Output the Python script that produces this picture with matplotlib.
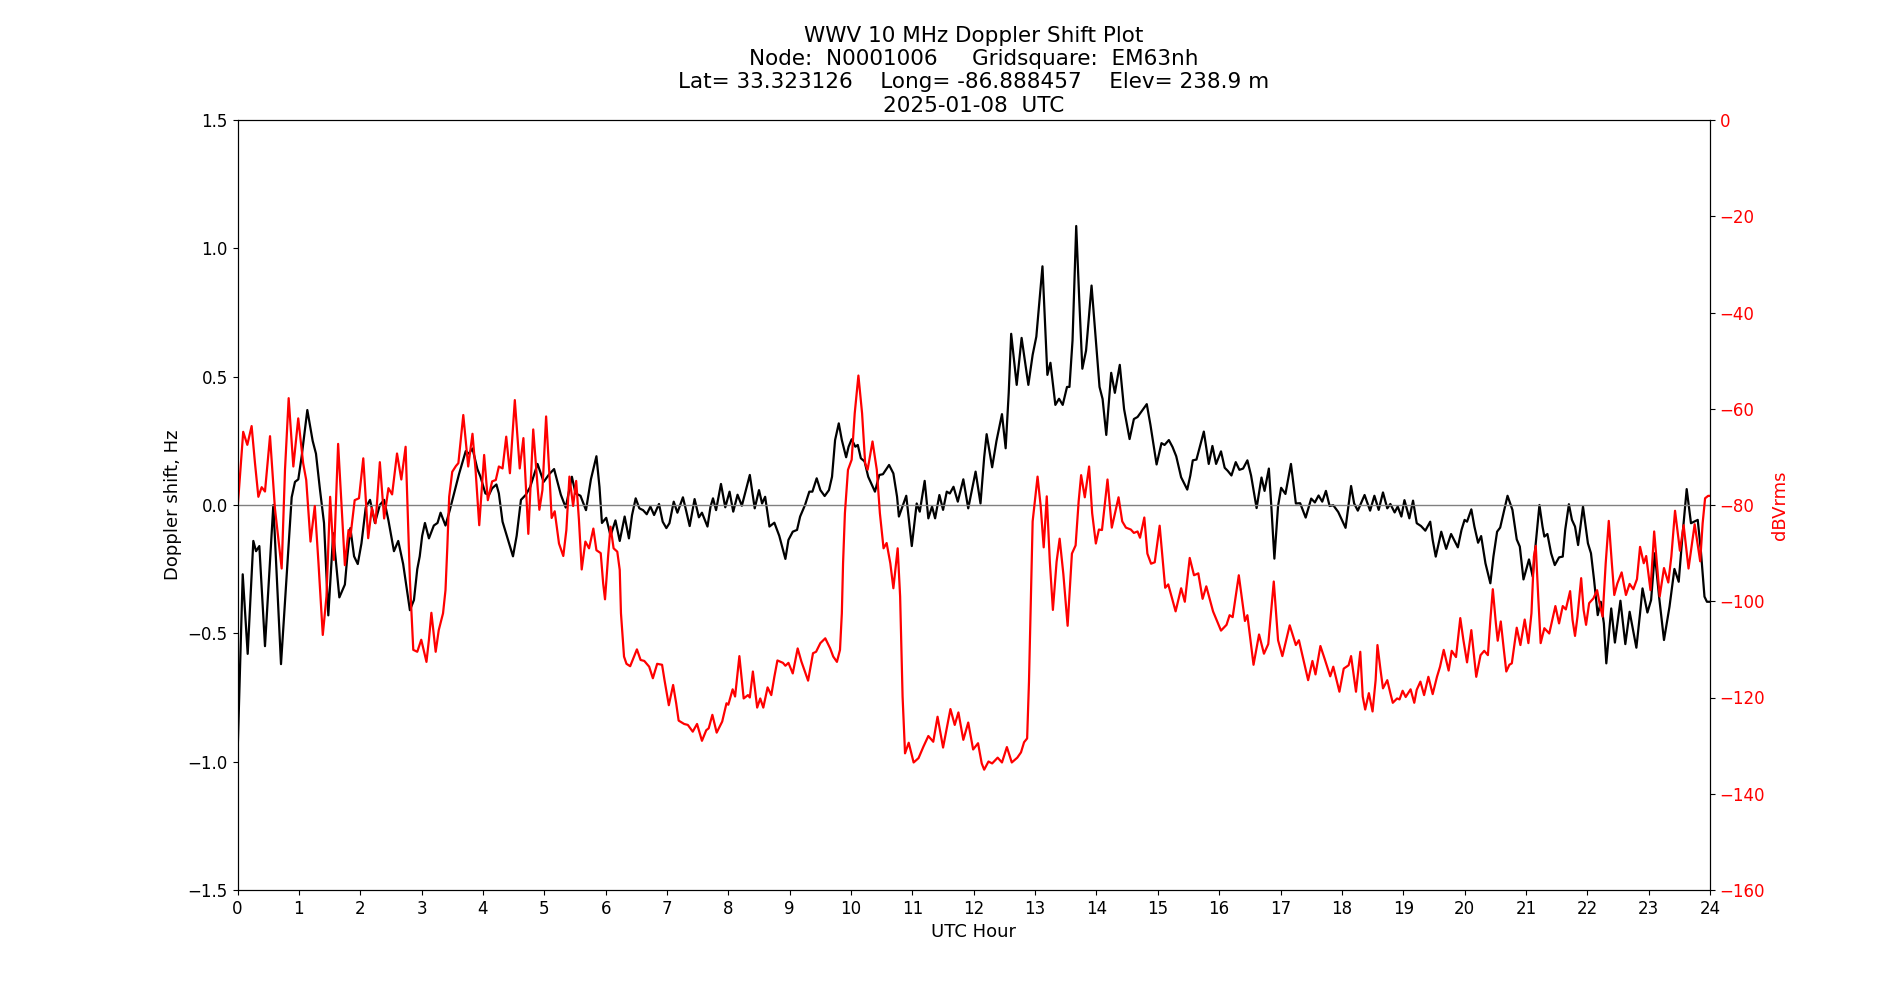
import numpy as np
import matplotlib
matplotlib.use("Agg")
import matplotlib.pyplot as plt

# Doppler shift (black), UTC hour / Hz
doppler_hours = [
    0.00, 0.085, 0.166, 0.258, 0.302, 0.356, 0.448, 0.584, 0.709, 0.883, 0.937, 0.991, 1.046, 1.138, 1.225, 1.279,
    1.344, 1.41, 1.48, 1.56, 1.66, 1.75, 1.79, 1.84, 1.90, 1.96, 2.02, 2.09, 2.16, 2.24, 2.32, 2.39, 2.46, 2.55,
    2.62, 2.70, 2.81,
    2.876, 2.93, 2.97, 3.01, 3.055, 3.12, 3.20, 3.26, 3.31, 3.39, 3.46, 3.53, 3.61, 3.72, 3.77, 3.83, 3.91, 3.96,
    4.04, 4.10, 4.15, 4.22, 4.26, 4.32, 4.39, 4.49, 4.55, 4.62, 4.70, 4.77, 4.89, 4.99, 5.08, 5.16, 5.27, 5.35,
    5.45, 5.51, 5.59, 5.68, 5.76, 5.85,
    5.90, 5.94, 6.01, 6.08, 6.16, 6.23, 6.31, 6.38, 6.43, 6.49, 6.55, 6.61, 6.67, 6.73, 6.79, 6.87, 6.93, 6.99,
    7.04, 7.11, 7.17, 7.26, 7.31, 7.37, 7.45, 7.52, 7.57, 7.66, 7.71, 7.75, 7.80, 7.88, 7.95, 8.02, 8.08, 8.15,
    8.22, 8.35, 8.43, 8.50, 8.55, 8.60, 8.67, 8.75, 8.83, 8.93,
    8.98, 9.05, 9.12, 9.17, 9.25, 9.32, 9.37, 9.44, 9.50, 9.57, 9.64, 9.69, 9.74, 9.80, 9.85, 9.92, 9.96, 10.01,
    10.07, 10.11, 10.16, 10.22, 10.28, 10.39, 10.46, 10.52, 10.62, 10.69, 10.75, 10.78, 10.90, 10.99, 11.07, 11.12,
    11.20, 11.26, 11.32, 11.37, 11.44, 11.50, 11.56, 11.61, 11.67, 11.74, 11.83, 11.91, 12.03, 12.11,
    12.17, 12.21, 12.30, 12.37, 12.46, 12.52, 12.57, 12.61, 12.70, 12.78, 12.89, 12.96, 13.02, 13.12, 13.20, 13.25,
    13.33, 13.39, 13.45, 13.52, 13.56, 13.61, 13.67, 13.72, 13.77, 13.83, 13.85, 13.92, 13.99, 14.05, 14.10, 14.16,
    14.24, 14.30, 14.38, 14.45, 14.54, 14.61, 14.67, 14.82, 14.88, 14.98, 15.06,
    15.11, 15.18, 15.24, 15.30, 15.38, 15.48, 15.53, 15.57, 15.63, 15.75, 15.83, 15.89, 15.95, 16.03, 16.09, 16.14,
    16.20, 16.27, 16.33, 16.39, 16.46, 16.52, 16.61, 16.69, 16.74, 16.81, 16.85, 16.90, 16.96, 17.01, 17.08, 17.17,
    17.25, 17.32, 17.41, 17.50, 17.56, 17.62, 17.68, 17.74, 17.80, 17.86, 17.94, 18.06,
    18.15, 18.20, 18.26, 18.37, 18.46, 18.53, 18.60, 18.67, 18.74, 18.79, 18.86, 18.91, 18.97, 19.02, 19.10, 19.16,
    19.22, 19.29, 19.36, 19.44, 19.48, 19.53, 19.62, 19.70, 19.78, 19.89, 19.95, 20.00, 20.04, 20.11, 20.16, 20.22,
    20.27, 20.34, 20.42, 20.47, 20.53, 20.58, 20.70, 20.78, 20.85, 20.90, 20.96, 21.05, 21.11,
    21.16, 21.22, 21.27, 21.30, 21.35, 21.41, 21.47, 21.54, 21.60, 21.64, 21.70, 21.75, 21.80, 21.85, 21.93, 22.01,
    22.06, 22.11, 22.17, 22.22, 22.27, 22.31, 22.39, 22.45, 22.54, 22.62, 22.69, 22.80, 22.86, 22.90, 22.98, 23.04,
    23.10, 23.17, 23.25, 23.34, 23.42, 23.49, 23.55, 23.62, 23.69, 23.80, 23.85, 23.91, 23.95, 24.0,
]
doppler_hz = [
    -0.98, -0.27, -0.58, -0.14, -0.18, -0.16, -0.55, 0.00, -0.62, 0.03, 0.09, 0.10, 0.19, 0.37, 0.25, 0.20,
    0.06, -0.07, -0.43, -0.11, -0.36, -0.31, -0.20, -0.09, -0.20, -0.23, -0.15, -0.01, 0.02, -0.07, 0.00, 0.02, -0.06, -0.18,
    -0.14, -0.23, -0.41,
    -0.37, -0.25, -0.20, -0.12, -0.07, -0.13, -0.08, -0.07, -0.03, -0.08, -0.02, 0.045, 0.12, 0.21, 0.20, 0.22, 0.14, 0.11,
    0.045, 0.04, 0.065, 0.08, 0.045, -0.065, -0.12, -0.20, -0.12, 0.02, 0.04, 0.07, 0.16, 0.09, 0.12, 0.14, 0.04, -0.01,
    0.11, 0.045, 0.036, -0.02, 0.10, 0.19,
    0.07, -0.07, -0.05, -0.12, -0.06, -0.14, -0.045, -0.13, -0.04, 0.026, -0.013, -0.02, -0.036, -0.006, -0.039, 0.004, -0.065, -0.09,
    -0.071, 0.013, -0.03, 0.03, -0.02, -0.082, 0.023, -0.048, -0.03, -0.084, -0.006, 0.026, -0.02, 0.082, -0.009, 0.052, -0.026, 0.04,
    -0.003, 0.117, -0.013, 0.058, 0.006, 0.032, -0.084, -0.069, -0.12, -0.21,
    -0.136, -0.104, -0.097, -0.045, 0.0, 0.052, 0.052, 0.104, 0.058, 0.035, 0.058, 0.11, 0.253, 0.318, 0.253, 0.186, 0.227, 0.256,
    0.227, 0.234, 0.182, 0.17, 0.11, 0.052, 0.117, 0.12, 0.156, 0.123, 0.032, -0.045, 0.036, -0.16, 0.006, -0.026,
    0.094, -0.052, -0.006, -0.052, 0.039, -0.019, 0.052, 0.045, 0.071, 0.013, 0.1, -0.013, 0.13, 0.006,
    0.186, 0.276, 0.147, 0.249, 0.354, 0.221, 0.437, 0.667, 0.468, 0.651, 0.468, 0.585, 0.656, 0.930, 0.507, 0.554,
    0.390, 0.414, 0.390, 0.460, 0.460, 0.641, 1.087, 0.797, 0.531, 0.601, 0.656, 0.855, 0.641, 0.460, 0.413, 0.273,
    0.515, 0.437, 0.546, 0.374, 0.257, 0.335, 0.343, 0.393, 0.312, 0.158, 0.241,
    0.234, 0.253, 0.226, 0.19, 0.108, 0.06, 0.115, 0.174, 0.177, 0.286, 0.16, 0.23, 0.16, 0.209, 0.145, 0.133,
    0.115, 0.167, 0.137, 0.142, 0.174, 0.115, -0.012, 0.107, 0.055, 0.142, -0.004, -0.209, -0.004, 0.067, 0.043, 0.16,
    0.006, 0.007, -0.049, 0.025, 0.01, 0.037, 0.013, 0.055, -0.004, -0.001, -0.027, -0.089,
    0.074, 0.006, -0.022, 0.039, -0.022, 0.036, -0.019, 0.049, -0.013, 0.004, -0.029, -0.006, -0.045, 0.019, -0.052, 0.017,
    -0.071, -0.082, -0.1, -0.065, -0.136, -0.201, -0.104, -0.171, -0.113, -0.165, -0.097, -0.058, -0.065, -0.017, -0.084, -0.147,
    -0.121, -0.227, -0.305, -0.201, -0.104, -0.088, 0.036, -0.019, -0.134, -0.162, -0.29, -0.212, -0.279,
    -0.149, 0.0, -0.084, -0.123, -0.113, -0.188, -0.234, -0.204, -0.201, -0.097, 0.003, -0.058, -0.084, -0.156, -0.006, -0.149,
    -0.188, -0.291, -0.429, -0.377, -0.461, -0.617, -0.403, -0.536, -0.373, -0.542, -0.416, -0.556, -0.422, -0.325, -0.419, -0.37,
    -0.188, -0.357, -0.526, -0.396, -0.249, -0.299, -0.123, 0.062, -0.071, -0.058, -0.175, -0.357, -0.377, -0.377,
]

# signal level (red), UTC hour / dBVrms
power_hours = [
    0.0, 0.093, 0.16, 0.23, 0.285, 0.34, 0.394, 0.448, 0.53, 0.61, 0.72, 0.774, 0.834, 0.91, 0.99, 1.07, 1.12,
    1.19, 1.26, 1.32, 1.39, 1.45, 1.51, 1.57, 1.64, 1.75, 1.81, 1.84, 1.91, 1.98, 2.05, 2.13, 2.19, 2.25, 2.32,
    2.39, 2.46, 2.52, 2.60, 2.67, 2.74, 2.81, 2.865,
    2.93, 2.995, 3.08, 3.12, 3.16, 3.23, 3.28, 3.35, 3.39, 3.42, 3.45, 3.50, 3.56, 3.60, 3.68, 3.76, 3.83, 3.88,
    3.94, 4.02, 4.08, 4.15, 4.21, 4.26, 4.32, 4.38, 4.44, 4.52, 4.60, 4.66, 4.74, 4.82, 4.92, 4.97, 5.03, 5.09,
    5.12, 5.17, 5.24, 5.31, 5.36, 5.41, 5.47, 5.52, 5.565, 5.61, 5.67, 5.73, 5.80, 5.85,
    5.92, 5.96, 5.99, 6.04, 6.08, 6.13, 6.19, 6.23, 6.25, 6.30, 6.34, 6.40, 6.51, 6.57, 6.63, 6.71, 6.77, 6.84,
    6.92, 6.96, 7.03, 7.10, 7.15, 7.19, 7.28, 7.34, 7.42, 7.49, 7.57, 7.64, 7.68, 7.74, 7.81, 7.90, 7.97, 8.00,
    8.07, 8.11, 8.18, 8.25, 8.32, 8.35, 8.40, 8.47, 8.52, 8.57, 8.64, 8.70, 8.75, 8.80, 8.89, 8.93, 8.98, 9.05, 9.13,
    9.19, 9.22, 9.30, 9.38, 9.43, 9.50, 9.58, 9.66, 9.71, 9.77, 9.82, 9.85, 9.87, 9.90, 9.95, 10.01, 10.06, 10.12,
    10.18, 10.23, 10.27, 10.35, 10.42, 10.47, 10.53, 10.58, 10.64, 10.69, 10.76, 10.80, 10.84, 10.88, 10.94, 11.02,
    11.10, 11.18, 11.26, 11.34, 11.41, 11.50, 11.62, 11.69, 11.75, 11.83, 11.91, 11.99, 12.07, 12.13,
    12.17, 12.24, 12.30, 12.39, 12.46, 12.54, 12.62, 12.71, 12.77, 12.82, 12.87, 12.90, 12.93, 12.96, 13.04, 13.09,
    13.14, 13.19, 13.24, 13.29, 13.35, 13.40, 13.46, 13.53, 13.60, 13.66, 13.71, 13.75, 13.81, 13.88, 13.93, 13.99,
    14.04, 14.09, 14.18, 14.25, 14.36, 14.42, 14.48, 14.56, 14.61, 14.67, 14.71, 14.78, 14.83, 14.89, 14.95, 15.03,
    15.07, 15.12,
    15.17, 15.29, 15.38, 15.44, 15.52, 15.59, 15.66, 15.73, 15.79, 15.90, 16.03, 16.12, 16.17, 16.22, 16.32, 16.42,
    16.46, 16.56, 16.65, 16.73, 16.80, 16.89, 16.96, 17.03, 17.15, 17.25, 17.30, 17.45, 17.52, 17.57, 17.65, 17.72,
    17.81, 17.86, 17.96, 18.03, 18.11,
    18.15, 18.23, 18.30, 18.34, 18.38, 18.44, 18.50, 18.55, 18.58, 18.63, 18.67, 18.74, 18.79, 18.83, 18.90, 18.94,
    18.99, 19.04, 19.12, 19.18, 19.22, 19.28, 19.34, 19.41, 19.48, 19.55, 19.60, 19.66, 19.74, 19.79, 19.86, 19.93,
    19.98, 20.04, 20.11, 20.16, 20.19, 20.26, 20.32, 20.38, 20.42, 20.46, 20.51, 20.54, 20.59, 20.64, 20.68, 20.73,
    20.77, 20.80, 20.85, 20.91, 20.98, 21.04, 21.09, 21.13,
    21.16, 21.20, 21.24, 21.30, 21.38, 21.43, 21.48, 21.54, 21.60, 21.65, 21.72, 21.76, 21.80, 21.84, 21.90, 21.94,
    21.98, 22.03, 22.10, 22.16, 22.21, 22.25, 22.30, 22.35, 22.40, 22.44, 22.49, 22.56, 22.63, 22.69, 22.75, 22.81,
    22.86, 22.92, 22.96, 23.03, 23.09, 23.18, 23.25, 23.32, 23.37, 23.43, 23.51, 23.57, 23.65, 23.75, 23.84, 23.88,
    23.92, 23.97, 24.0,
]
power_db = [
    -81, -64.8, -67.5, -63.6, -71.3, -78.3, -76.3, -77.2, -65.7, -80.7, -93.2, -72.7, -57.8, -72, -62, -71.3, -74.8,
    -87.6, -80.2, -92.1, -107, -99, -78.3, -91.4, -67.3, -92.5, -85.2, -86.6, -79, -78.6, -70.3, -86.9, -80.6, -83.8, -71.1,
    -82.8, -76.5, -77.8, -69.3, -74.7, -67.9, -95.6, -110.1,
    -110.5, -108, -112.6, -108, -102.4, -110.5, -106, -102.5, -97.7, -88.7, -78.3, -73.1, -71.9, -71.3, -61.3, -72, -65.2, -72.7,
    -84.2, -69.6, -79, -75.1, -74.8, -72, -72.4, -65.8, -73.4, -58.2, -72.4, -66.1, -86, -64.3, -81, -76.9, -61.6, -75.1,
    -82.7, -81.3, -88, -90.6, -85.2, -74.1, -80.2, -75, -83.1, -93.4, -87.6, -89, -84.9, -89.4,
    -90.0, -96.3, -99.6, -90.7, -84.5, -89, -89.7, -93.5, -102.5, -111.5, -113, -113.5, -110, -112.2, -112.4, -113.6, -116, -113,
    -113.2, -116.4, -121.6, -117.4, -121.2, -124.8, -125.5, -125.7, -127.1, -125.5, -129, -126.8, -126.4, -123.6, -127.3, -125.0, -121.2, -121.5,
    -118.3, -119.8, -111.4, -120.2, -119.5, -120, -114.6, -122.1, -120.2, -122.1, -117.9, -119.5, -115.7, -112.3, -112.8, -113.4, -112.8, -115, -109.8,
    -112.5, -113.6, -116.5, -110.8, -110.5, -108.7, -107.7, -109.8, -111.5, -112.6, -110.1, -102.5, -92.1, -81.7, -72.7, -70.6, -60.95, -53.1,
    -60.95, -71.3, -72.7, -66.8, -72.7, -81.7, -89, -87.9, -92.1, -97.3, -89, -99, -119.8, -131.6, -129.4, -133.5,
    -132.6, -130.2, -128, -129.2, -124, -130.4, -122.4, -125.7, -123.1, -128.8, -125.2, -130.8, -129.5, -133.7,
    -135, -133.3, -133.7, -132.5, -133.5, -130.3, -133.5, -132.5, -131.4, -129.3, -128.5, -116.8, -100.1, -83.4, -74.1, -80.1,
    -88.8, -78.2, -91.8, -101.8, -91.8, -87, -94.3, -105.1, -90.1, -88.4, -79.2, -73.8, -78.4, -72, -81.7, -88,
    -85.1, -85.2, -74.7, -84.7, -78.4, -83.4, -84.7, -85.1, -85.8, -85.5, -86.8, -82.6, -90.1, -92.2, -91.9, -84.3,
    -90.1, -97.2,
    -96.5, -102.1, -97.3, -100.1, -91, -94.6, -94.2, -99.5, -96.9, -102.1, -106.1, -104.9, -102.9, -103.3, -94.6, -104.1,
    -102.9, -113.2, -106.9, -110.9, -108.9, -95.9, -108.1, -111.4, -105, -109.1, -108.1, -116.4, -112.4, -115.2, -109.3, -112,
    -115.6, -113.6, -118.8, -114, -113.3,
    -111.4, -118.8, -110.5, -119.8, -122.5, -119.1, -122.9, -116.4, -109.1, -114.3, -118.1, -116.4, -119.1, -121.1, -120.2, -120.4,
    -118.6, -119.9, -118.3, -121.1, -118.4, -116.7, -119.5, -115.7, -119.3, -115.7, -113.6, -110.1, -114.4, -110.3, -111.6, -103.5,
    -108, -112.7, -106, -112.2, -115.7, -111.2, -110.3, -111.2, -103.9, -97.5, -104.6, -108.2, -104.2, -110.1, -114.6, -113.2,
    -112.9, -110.1, -105.5, -109.1, -103.8, -108.7, -102.5, -90.7,
    -88.5, -99, -108.7, -105.6, -106.7, -103.9, -101, -104.6, -101, -101.7, -97.9, -103.9, -107.2, -103.2, -95.2, -101.8,
    -104.9, -100.4, -99.4, -97.7, -101.1, -103.2, -92.1, -83.3, -92.1, -98.7, -96.3, -94, -98.7, -96.4, -97.5, -95.4,
    -88.7, -92.1, -90.6, -97.7, -85.5, -99, -93.1, -96.1, -90.7, -81.2, -89.5, -84.2, -93.2, -84, -91.7, -83.8,
    -78.6, -78.1, -78.1,
]

title_lines = [
    'WWV 10 MHz Doppler Shift Plot',
    'Node:  N0001006     Gridsquare:  EM63nh',
    'Lat= 33.323126    Long= -86.888457    Elev= 238.9 m',
    '2025-01-08  UTC',
]

fig, ax = plt.subplots(figsize=(19, 10), dpi=100)

ax.plot(doppler_hours, doppler_hz, color='black', linewidth=1.6)
ax.axhline(0, color='grey', linewidth=1.0)
ax.set_xlim(0, 24)
ax.set_ylim(-1.5, 1.5)
ax.set_xticks(np.arange(0, 25, 1))
ax.set_yticks(np.arange(-1.5, 1.51, 0.5))
ax.tick_params(labelsize=12)
ax.set_xlabel('UTC Hour', fontsize=13)
ax.set_ylabel('Doppler shift, Hz', fontsize=13)
ax.set_title('\n'.join(title_lines), fontsize=15.5)

ax2 = ax.twinx()
ax2.plot(power_hours, power_db, color='red', linewidth=1.6)
ax2.set_ylim(-160, 0)
ax2.set_yticks(np.arange(-160, 1, 20))
ax2.tick_params(axis='y', labelsize=12, labelcolor='red')
ax2.set_ylabel('dBVrms', fontsize=13, color='red')

plt.savefig('out.png', dpi=100)
